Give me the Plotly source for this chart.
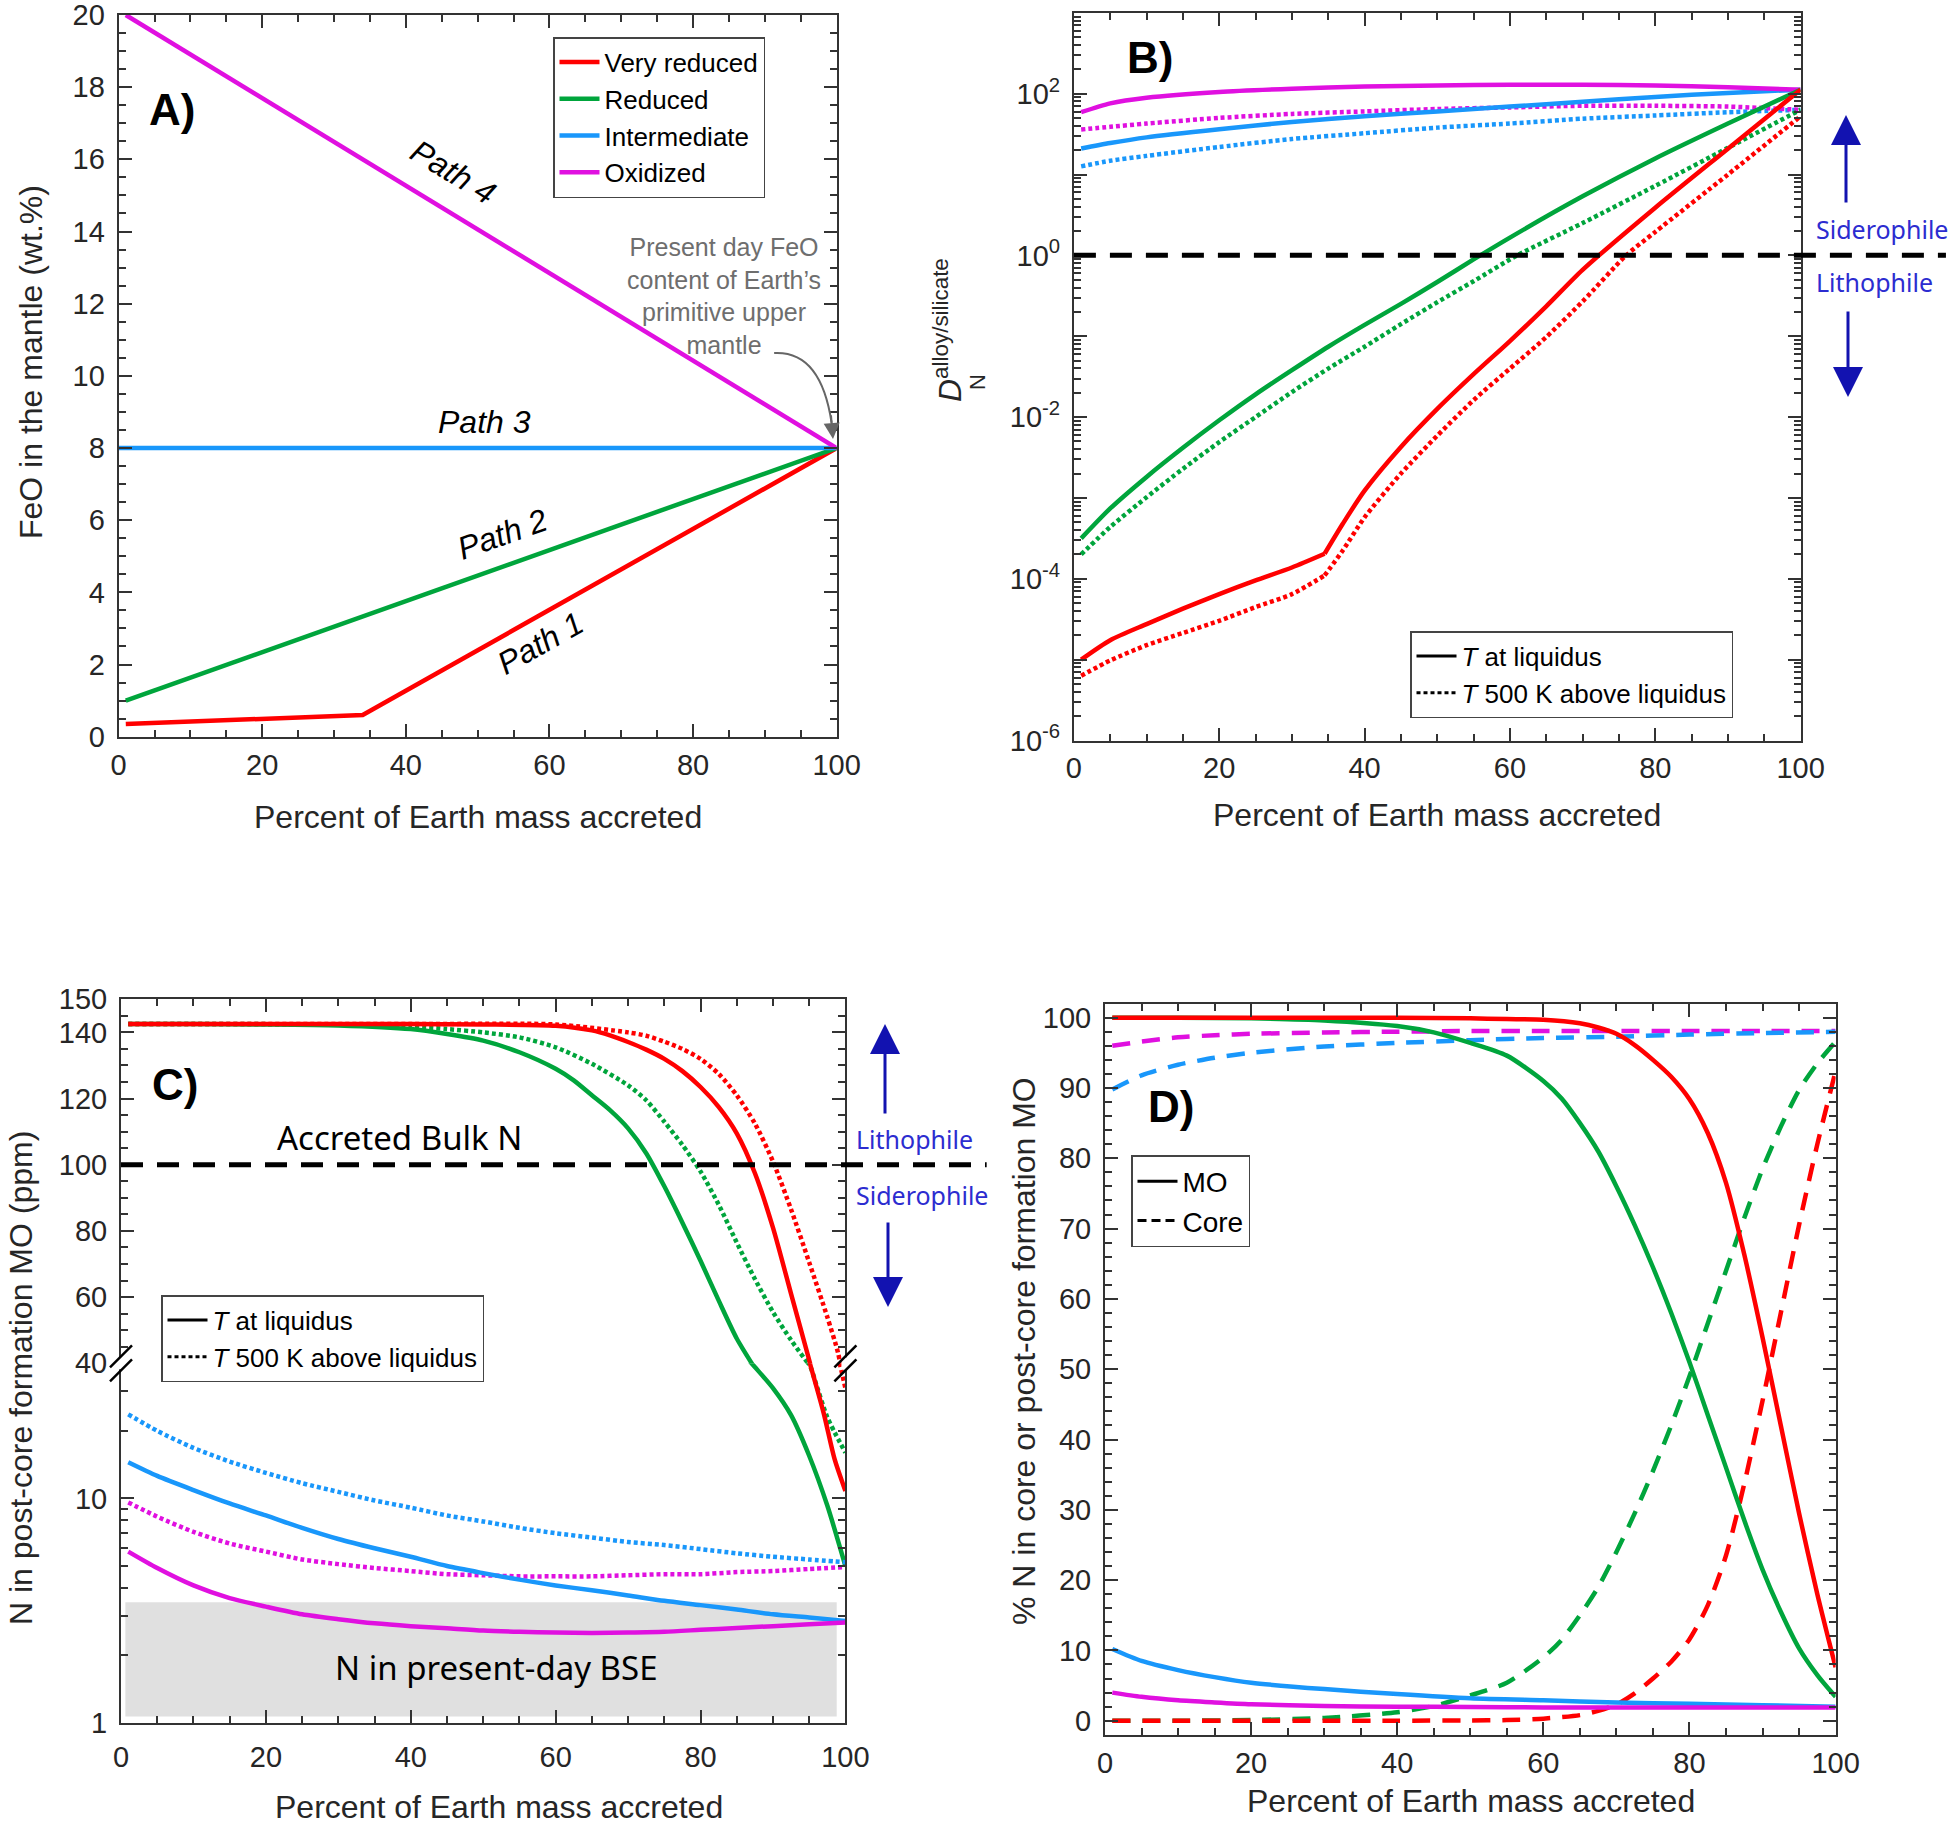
import math
import plotly.graph_objects as go

W, H = 1958, 1825
FONT = 'Liberation Sans, Arial, sans-serif'
FONT2 = 'Noto Sans, Open Sans, sans-serif'
AX = '#333333'
TXT = '#262626'
RED, GREEN, BLUE, MAG = '#ff0000', '#00a53c', '#1997fb', '#e010e0'
NAVY = '#1212b0'
LBLUE = '#2c2cd0'
DOT = '4px,3px'
DASH = '18px,12px'


def px(x):
    return x / W


def py(y):
    return 1 - y / H


# ---------------- panel A : FeO in the mantle
a_x_vred = [1, 34, 100]
a_feo_vred = [0.35, 0.6, 8]
a_x_red = [1, 100]
a_feo_red = [1.0, 8]
a_x_int = [0, 100]
a_feo_int = [8, 8]
a_x_oxi = [1, 100]
a_feo_oxi = [20, 8]

# ---------------- panel B : D_N alloy/silicate
b_x_green = [1, 5, 10, 15, 20, 25, 30, 35, 40, 45, 50, 55, 60, 70, 80, 90, 100]
b_green_liq = [3.16e-4, 7.41e-4, 1.82e-3, 4.17e-3, 9.12e-3, 0.0191, 0.038, 0.0741, 0.138,
               0.251, 0.468, 0.891, 1.66, 5.37, 15.8, 42.7, 112]
b_x_green_hot = [1, 5, 10, 15, 20, 25, 30, 35, 40, 45, 50, 55, 61, 70, 80, 90, 100]
b_green_hot = [2.0e-4, 4.37e-4, 1.02e-3, 2.29e-3, 4.9e-3, 0.01, 0.0204, 0.0398, 0.0741,
               0.141, 0.263, 0.479, 1.0, 2.51, 7.24, 21.4, 63.1]
b_x_red = [1, 5, 10, 15, 20, 25, 30, 34.5, 37, 40, 45, 50, 55, 60, 65, 70, 80, 90, 100]
b_red_liq = [1e-5, 1.74e-5, 2.75e-5, 4.27e-5, 6.46e-5, 9.55e-5, 1.38e-4, 2.04e-4, 4.79e-4,
             1.23e-3, 4.27e-3, 0.0126, 0.0339, 0.0871, 0.234, 0.661, 3.89, 20.9, 112]
b_x_red_hot = [1, 5, 10, 15, 20, 25, 30, 34.5, 37, 40, 45, 50, 55, 60, 65, 70, 76, 80, 90, 100]
b_red_hot = [6.31e-6, 9.77e-6, 1.51e-5, 2.14e-5, 3.02e-5, 4.47e-5, 6.46e-5, 1.1e-4, 2.24e-4,
             5.75e-4, 2.0e-3, 5.89e-3, 0.0162, 0.0398, 0.0977, 0.269, 1.0, 1.95, 10.0, 52.5]
b_red_kink = 34.5
b_x_top = [1, 5, 10, 20, 30, 40, 50, 60, 70, 80, 90, 100]
b_mag_liq = [59, 75.9, 89.1, 105, 115, 123, 126, 129, 129, 126, 120, 112]
b_blue_liq = [21, 24.5, 28.8, 36.3, 44.7, 52.5, 60.3, 69.2, 79.4, 91.2, 102, 112]
b_mag_hot = [36, 38.9, 42.7, 50.1, 56.2, 60.3, 64.6, 67.6, 70.8, 70.8, 69.2, 63.1]
b_blue_hot = [12.6, 14.8, 17.0, 21.9, 27.5, 32.4, 38.0, 42.7, 49.0, 53.7, 58.9, 63.1]

# ---------------- panel C : N in post-core formation MO (ppm)
c_x_green_liq = [1, 10, 20, 30, 40, 45, 50, 55, 60, 62.5, 65, 67.5, 70, 72.5, 75, 77.5, 80,
                 82.5, 85, 87.5, 90, 92.5, 95, 97.5, 100]
c_green_liq = [142.5, 142.5, 142.4, 142.1, 141, 139.5, 137.5, 134, 129, 125.5, 121, 116.5,
               111, 103.5, 93.5, 82.5, 71, 59, 47.5, 38.5, 31, 23.5, 15.5, 9.3, 5.0]
c_x_green_hot = [1, 10, 20, 30, 40, 45, 50, 55, 60, 65, 70, 72.5, 75, 77.5, 80, 82.5, 85,
                 87.5, 90, 92.5, 95, 96, 97.5, 100]
c_green_hot = [142.5, 142.5, 142.5, 142.3, 141.7, 141, 140, 138.5, 135.5, 130.5, 124, 119.5,
               113, 106, 98, 88, 76.5, 65.5, 55.5, 47, 39.5, 32, 23, 16]
c_x_red_liq = [1, 20, 40, 50, 60, 65, 67.5, 70, 72.5, 75, 77.5, 80, 82.5, 85, 87.5, 90, 92.5,
               95, 97, 98.5, 100]
c_red_liq = [142.5, 142.5, 142.5, 142.4, 142, 140.6, 139.1, 137.1, 134.8, 132, 128.3, 123.5,
             117.5, 109.5, 97.5, 81, 61, 41, 24, 15, 10.8]
c_x_red_hot = [1, 40, 60, 70, 72.5, 75, 77.5, 80, 82.5, 85, 87.5, 90, 92.5, 95, 97.5, 99, 100]
c_red_hot = [142.5, 142.5, 142.4, 140, 139, 137.2, 135, 132, 127.5, 121, 112.5, 101, 86.5, 70.5,
             54, 43, 31]
c_x_low = [1, 5, 10, 15, 20, 25, 30, 35, 40, 45, 50, 55, 60, 65, 70, 75, 80, 85, 90, 95, 100]
c_blue_hot = [23.7, 20, 16.8, 14.6, 13, 11.7, 10.7, 9.8, 9.1, 8.4, 7.9, 7.4, 7.0, 6.7, 6.4,
              6.2, 5.95, 5.7, 5.5, 5.35, 5.2]
c_blue_liq = [14.5, 12.6, 10.9, 9.5, 8.4, 7.4, 6.6, 6.0, 5.5, 5.0, 4.65, 4.35, 4.1, 3.9, 3.7,
              3.5, 3.35, 3.2, 3.05, 2.95, 2.85]
c_mag_hot = [9.6, 8.3, 7.1, 6.3, 5.8, 5.35, 5.1, 4.9, 4.75, 4.6, 4.55, 4.5, 4.5, 4.5, 4.55,
             4.6, 4.6, 4.7, 4.75, 4.85, 4.95]
c_mag_liq = [5.8, 4.9, 4.1, 3.6, 3.3, 3.05, 2.9, 2.78, 2.7, 2.64, 2.58, 2.55, 2.53, 2.52,
             2.53, 2.55, 2.6, 2.65, 2.7, 2.75, 2.8]
c_bulk_n = 100
c_break = 40
c_bse_x = [0.6, 98.8]
c_bse_n = [1.07, 3.45]

# ---------------- panel D : % N in core or MO
d_x_red = [1, 10, 20, 30, 40, 50, 55, 60, 65, 67.5, 70, 72.5, 75, 77.5, 80, 82.5, 85, 87.5, 90,
           92.5, 95, 97.5, 100]
d_red_mo = [100, 100, 100, 100, 100, 99.9, 99.8, 99.7, 99.2, 98.6, 97.7, 96.1, 94, 91.6, 88.4,
            83.6, 76.5, 66.3, 54.5, 42, 29.5, 18, 7.6]
d_red_core = [0, 0, 0, 0, 0, 0.05, 0.1, 0.3, 0.8, 1.4, 2.3, 3.9, 6, 8.4, 11.6, 16.4, 23.5, 33.7,
              45.5, 58, 70.5, 82, 92.4]
d_x_green = [1, 10, 20, 30, 40, 45, 50, 55, 60, 62.5, 65, 67.5, 70, 72.5, 75, 77.5, 80, 82.5,
             85, 87.5, 90, 92.5, 95, 97.5, 100]
d_green_mo = [100, 100, 99.9, 99.6, 98.8, 97.9, 96.4, 94.6, 91, 88.5, 85, 81, 76, 70.5, 64.5,
              58, 51, 43.5, 36, 28.5, 21.5, 15.5, 10.3, 6.5, 3.4]
d_green_core = [0, 0, 0.1, 0.4, 1.2, 2.1, 3.6, 5.4, 9, 11.5, 15, 19, 24, 29.5, 35.5, 42, 49,
                56.5, 64, 71.5, 78.5, 84.5, 89.7, 93.5, 96.6]
d_x_ox = [1, 5, 10, 15, 20, 30, 40, 50, 60, 70, 80, 90, 100]
d_blue_mo = [10.2, 8.5, 7.2, 6.2, 5.4, 4.5, 3.8, 3.2, 2.9, 2.6, 2.4, 2.2, 2.0]
d_blue_core = [89.8, 91.8, 93.3, 94.3, 95.0, 95.9, 96.4, 96.8, 97.1, 97.3, 97.6, 97.8, 98.0]
d_mag_mo = [4.0, 3.4, 2.9, 2.6, 2.35, 2.1, 2.0, 1.95, 1.9, 1.9, 1.9, 1.9, 1.9]
d_mag_core = [96.0, 96.6, 97.2, 97.5, 97.7, 97.9, 98.0, 98.1, 98.1, 98.1, 98.1, 98.1, 98.1]

path_names = ['Very reduced', 'Reduced', 'Intermediate', 'Oxidized']

fig = go.Figure()


def line(x, y, color, xa, ya, dash=None, spline=False, name=None, legend=None, width=4.5):
    ln = dict(color=color, width=width)
    if dash:
        ln['dash'] = dash
    if spline:
        ln['shape'] = 'spline'
        ln['smoothing'] = 0.7
    tr = go.Scatter(x=x, y=y, mode='lines', xaxis=xa, yaxis=ya, line=ln,
                    showlegend=name is not None, hoverinfo='skip')
    if name:
        tr.name = name
        tr.legend = legend
    fig.add_trace(tr)


# A
line(a_x_vred, a_feo_vred, RED, 'x', 'y', name=path_names[0], legend='legend')
line(a_x_red, a_feo_red, GREEN, 'x', 'y', name=path_names[1], legend='legend')
line(a_x_int, a_feo_int, BLUE, 'x', 'y', name=path_names[2], legend='legend')
line(a_x_oxi, a_feo_oxi, MAG, 'x', 'y', name=path_names[3], legend='legend')

# B
line(b_x_top, b_blue_hot, BLUE, 'x2', 'y2', dash=DOT, spline=True)
line(b_x_top, b_mag_hot, MAG, 'x2', 'y2', dash=DOT, spline=True)
line(b_x_top, b_blue_liq, BLUE, 'x2', 'y2', spline=True)
line(b_x_top, b_mag_liq, MAG, 'x2', 'y2', spline=True)
line(b_x_green_hot, b_green_hot, GREEN, 'x2', 'y2', dash=DOT, spline=True)
line(b_x_green, b_green_liq, GREEN, 'x2', 'y2', spline=True)
# the very reduced path has a kink where its FeO path changes slope
for xs, ys, dash in [(b_x_red_hot, b_red_hot, DOT), (b_x_red, b_red_liq, None)]:
    k = xs.index(b_red_kink)
    line(xs[:k + 1], ys[:k + 1], RED, 'x2', 'y2', dash=dash, spline=True)
    line(xs[k:], ys[k:], RED, 'x2', 'y2', dash=dash, spline=True)
line([None], [None], 'black', 'x2', 'y2', name='<i>T</i> at liquidus', legend='legend2', width=3)
line([None], [None], 'black', 'x2', 'y2', dash=DOT, name='<i>T</i> 500 K above liquidus',
     legend='legend2', width=3)


# C : split curves crossing the axis break between the linear (top) and log (bottom) parts
def split(xs, ys, brk):
    k = next(i for i, v in enumerate(ys) if v < brk)
    return (xs[:k + 1], ys[:k + 1]), (xs[k - 1:], ys[k - 1:])


for xs, ys, col, dash in [(c_x_green_hot, c_green_hot, GREEN, DOT),
                          (c_x_red_hot, c_red_hot, RED, DOT),
                          (c_x_green_liq, c_green_liq, GREEN, None),
                          (c_x_red_liq, c_red_liq, RED, None)]:
    up, lo = split(xs, ys, c_break)
    line(up[0], up[1], col, 'x5', 'y5', dash=dash, spline=True)
    line(lo[0], lo[1], col, 'x3', 'y3', dash=dash, spline=True)

line(c_x_low, c_blue_hot, BLUE, 'x3', 'y3', dash=DOT, spline=True)
line(c_x_low, c_mag_hot, MAG, 'x3', 'y3', dash=DOT, spline=True)
line(c_x_low, c_blue_liq, BLUE, 'x3', 'y3', spline=True)
line(c_x_low, c_mag_liq, MAG, 'x3', 'y3', spline=True)
line([None], [None], 'black', 'x3', 'y3', name='<i>T</i> at liquidus', legend='legend3', width=3)
line([None], [None], 'black', 'x3', 'y3', dash=DOT, name='<i>T</i> 500 K above liquidus',
     legend='legend3', width=3)

# D
line(d_x_ox, d_mag_core, MAG, 'x4', 'y4', dash=DASH, spline=True)
line(d_x_ox, d_blue_core, BLUE, 'x4', 'y4', dash=DASH, spline=True)
line(d_x_green, d_green_core, GREEN, 'x4', 'y4', dash=DASH, spline=True)
line(d_x_red, d_red_core, RED, 'x4', 'y4', dash=DASH, spline=True)
line(d_x_ox, d_blue_mo, BLUE, 'x4', 'y4', spline=True)
line(d_x_ox, d_mag_mo, MAG, 'x4', 'y4', spline=True)
line(d_x_green, d_green_mo, GREEN, 'x4', 'y4', spline=True)
line(d_x_red, d_red_mo, RED, 'x4', 'y4', spline=True)
line([None], [None], 'black', 'x4', 'y4', name='MO', legend='legend4', width=3)
line([None], [None], 'black', 'x4', 'y4', dash='9px,5px', name='Core', legend='legend4', width=3)

# ---------------- axes
X_TICKS = [0, 20, 40, 60, 80, 100]
X_MINOR = [v for v in range(5, 100, 5) if v % 20]


def minor(vals):
    return dict(tickmode='array', tickvals=vals, ticks='inside', ticklen=7, tickwidth=1.5,
                tickcolor=AX, showgrid=False)


def axis(dom, rng, anchor, tickvals, minor_vals, ticktext=None, mirror='allticks', **kw):
    d = dict(domain=dom, range=rng, anchor=anchor, showline=True, linecolor=AX, linewidth=2,
             mirror=mirror, ticks='inside', ticklen=13, tickwidth=2, tickcolor=AX,
             showgrid=False, zeroline=False, tickmode='array', tickvals=tickvals,
             automargin=False, ticklabeloverflow='allow',
             tickfont=dict(family=FONT, size=29, color=TXT), minor=minor(minor_vals))
    if ticktext is not None:
        d['ticktext'] = ticktext
    d.update(kw)
    return d


A_X = [px(118.6), px(836.6)]
A_Y = [py(736.7), py(15)]
B_X = [px(1073.9), px(1800.6)]
B_Y = [py(740.5), py(12.8)]
C_X = [px(121), px(845.4)]
C_BRK = 1363.3
C_LO = [py(1723), py(C_BRK)]
C_UP = [py(C_BRK), py(999.3)]
D_X = [px(1105), px(1835.6)]
D_Y = [py(1734.8), py(1003.6)]

B_RANGE = [-6, 3]
C_UP_RANGE = [c_break, 150]
decades = list(range(-6, 4))
b_ticks = [10.0 ** k for k in decades]
b_text = ['10<sup>%d</sup>' % k if k % 2 == 0 and k < 3 else '' for k in decades]
b_minor = [m * 10.0 ** k for k in range(-6, 3) for m in range(2, 10)]

fig.update_layout(
    xaxis=axis(A_X, [0, 100], 'y', X_TICKS, X_MINOR, ticklabelstandoff=1),
    yaxis=axis(A_Y, [0, 20], 'x', list(range(0, 21, 2)), [i * 0.5 for i in range(41) if i % 4],
               ticklabelstandoff=6),
    xaxis2=axis(B_X, [0, 100], 'y2', X_TICKS, X_MINOR, ticklabelstandoff=1),
    yaxis2=axis(B_Y, B_RANGE, 'x2', b_ticks, b_minor, ticktext=b_text, type='log',
                ticklabelstandoff=6),
    xaxis3=axis(C_X, [0, 100], 'y3', X_TICKS, X_MINOR, mirror=False, ticklabelstandoff=7),
    yaxis3=axis(C_LO, [0, math.log10(c_break)], 'x3', [1, 10], [2, 3, 4, 5, 6, 7, 8, 9, 20, 30],
                ticktext=['1', '10'], type='log', ticklabelstandoff=6),
    xaxis5=axis(C_X, [0, 100], 'y5', X_TICKS, X_MINOR, mirror=False, side='top',
                showticklabels=False),
    yaxis5=axis(C_UP, C_UP_RANGE, 'x5', [40, 60, 80, 100, 120, 140, 150],
                [v for v in range(45, 150, 5) if v % 20], ticklabelstandoff=6),
    xaxis4=axis(D_X, [0, 100], 'y4', X_TICKS, X_MINOR, ticklabelstandoff=1),
    yaxis4=axis(D_Y, [-2, 102], 'x4', list(range(0, 101, 10)),
                [v for v in range(2, 101, 2) if v % 10], ticklabelstandoff=6),
)


# ---------------- legends
def legend(x, y, size):
    return dict(x=px(x), y=py(y), xanchor='left', yanchor='top', bgcolor='white',
                bordercolor='#444', borderwidth=1.5, font=dict(family=FONT, size=size, color='black'),
                tracegroupgap=0, itemwidth=40)


fig.update_layout(
    width=W, height=H, margin=dict(l=0, r=0, t=0, b=0, autoexpand=False), autosize=False,
    paper_bgcolor='white', plot_bgcolor='white', showlegend=True,
    legend=legend(553, 37, 26), legend2=legend(1410, 631, 26),
    legend3=legend(161, 1295, 26), legend4=legend(1131, 1155, 28),
)

# ---------------- shapes
shapes = [
    dict(type='rect', xref='x3', yref='y3', x0=c_bse_x[0], x1=c_bse_x[1], y0=c_bse_n[0],
         y1=c_bse_n[1], fillcolor='#e0e0e0', line=dict(width=0), layer='below'),
    dict(type='line', xref='x2 domain', yref='y2 domain', x0=0, x1=1.2,
         y0=(0 - B_RANGE[0]) / (B_RANGE[1] - B_RANGE[0]),
         y1=(0 - B_RANGE[0]) / (B_RANGE[1] - B_RANGE[0]),
         line=dict(color='black', width=5, dash='22px,14px')),
    dict(type='line', xref='x5 domain', yref='y5 domain', x0=0, x1=1.195,
         y0=(c_bulk_n - C_UP_RANGE[0]) / (C_UP_RANGE[1] - C_UP_RANGE[0]),
         y1=(c_bulk_n - C_UP_RANGE[0]) / (C_UP_RANGE[1] - C_UP_RANGE[0]),
         line=dict(color='black', width=5, dash='22px,14px')),
    dict(type='path', xref='x', yref='y', path='M 91.3,10.63 Q 97.8,10.7 99.3,8.7',
         line=dict(color='#666666', width=2)),
]
# axis-break marks
for bx in (121, 845.4):
    shapes.append(dict(type='rect', xref='paper', yref='paper', x0=px(bx - 4), x1=px(bx + 4),
                       y0=py(C_BRK + 6), y1=py(C_BRK - 6), fillcolor='white',
                       line=dict(width=0)))
    for off in (-7, 7):
        shapes.append(dict(type='line', xref='paper', yref='paper',
                           x0=px(bx - 11), y0=py(C_BRK + off + 11),
                           x1=px(bx + 11), y1=py(C_BRK + off - 11),
                           line=dict(color='black', width=2.5)))
fig.update_layout(shapes=shapes)

# ---------------- annotations
ann = []


def text(x, y, s, size, color='black', family=FONT, angle=0, ref='paper', **kw):
    d = dict(x=x, y=y, text=s, showarrow=False, textangle=angle,
             font=dict(family=family, size=size, color=color), xanchor='center', yanchor='middle')
    if ref == 'paper':
        d.update(xref='paper', yref='paper')
    else:
        d.update(xref=ref[0], yref=ref[1])
    d.update(kw)
    ann.append(d)


# panel letters
for s, x, y in [('A)', 172, 110), ('B)', 1150, 57), ('C)', 175, 1084), ('D)', 1171, 1106)]:
    text(px(x), py(y), '<b>%s</b>' % s, 44)

# axis titles
xt = 'Percent of Earth mass accreted'
for x, y in [(478, 817), (1437, 815), (499, 1807), (1471, 1801)]:
    text(px(x), py(y), xt, 32, color=TXT)
text(px(31), py(362), 'FeO in the mantle (wt.%)', 32, color=TXT, angle=-90)
text(px(21), py(1378), 'N in post-core formation MO (ppm)', 32, color=TXT, angle=-90)
text(px(1024), py(1351), '% N in core or post-core formation MO', 32, color=TXT, angle=-90)
text(px(948), py(330), '<i>D</i><sup>alloy/silicate</sup>', 32, color=TXT, angle=-90)
text(px(978), py(382), 'N', 22, color=TXT, angle=-90)

# panel A labels
for s, x, y, ang in [('Path 4', 46.6, 15.65, 31.3), ('Path 3', 51.0, 8.72, 0),
                     ('Path 2', 53.5, 5.62, -19.6), ('Path 1', 58.8, 2.6, -29.4)]:
    text(x, y, '<i>%s</i>' % s, 32, ref=('x', 'y'), angle=ang)
text(px(724), py(296), 'Present day FeO<br>content of Earth\u2019s<br>primitive upper<br>mantle',
     25, color='#6e6e6e')
ann.append(dict(x=99.5, y=8.25, xref='x', yref='y', ax=99.2, ay=8.95, axref='x', ayref='y',
                text='', showarrow=True, arrowhead=2, arrowsize=1.6, arrowwidth=2,
                arrowcolor='#666666'))

# panel C labels
text(38.5, 108.3, 'Accreted Bulk N', 33, family=FONT2, ref=('x5', 'y5'))
text(px(496), py(1667), 'N in present-day BSE', 33, family=FONT2)

# lithophile / siderophile markers
text(px(1882), py(229), 'Siderophile', 25, color=LBLUE, family=FONT2)
text(px(1874), py(282), 'Lithophile', 25, color=LBLUE, family=FONT2)
text(px(914), py(1139), 'Lithophile', 25, color=LBLUE, family=FONT2)
text(px(922), py(1195), 'Siderophile', 25, color=LBLUE, family=FONT2)
for x, y, dy in [(1846, 115, 89), (1848, 397, -87), (885, 1024, 91), (888, 1307, -86)]:
    ann.append(dict(x=px(x), y=py(y), xref='paper', yref='paper', ax=0, ay=dy, text='',
                    showarrow=True, arrowhead=2, arrowsize=2, arrowwidth=3, arrowcolor=NAVY))

fig.update_layout(annotations=ann)

# the page's default body margin would push the fixed-size figure off the window
fig.write_html("out.html", config={'displayModeBar': False},
               post_script="document.body.style.margin='0';document.body.style.overflow='hidden';")
